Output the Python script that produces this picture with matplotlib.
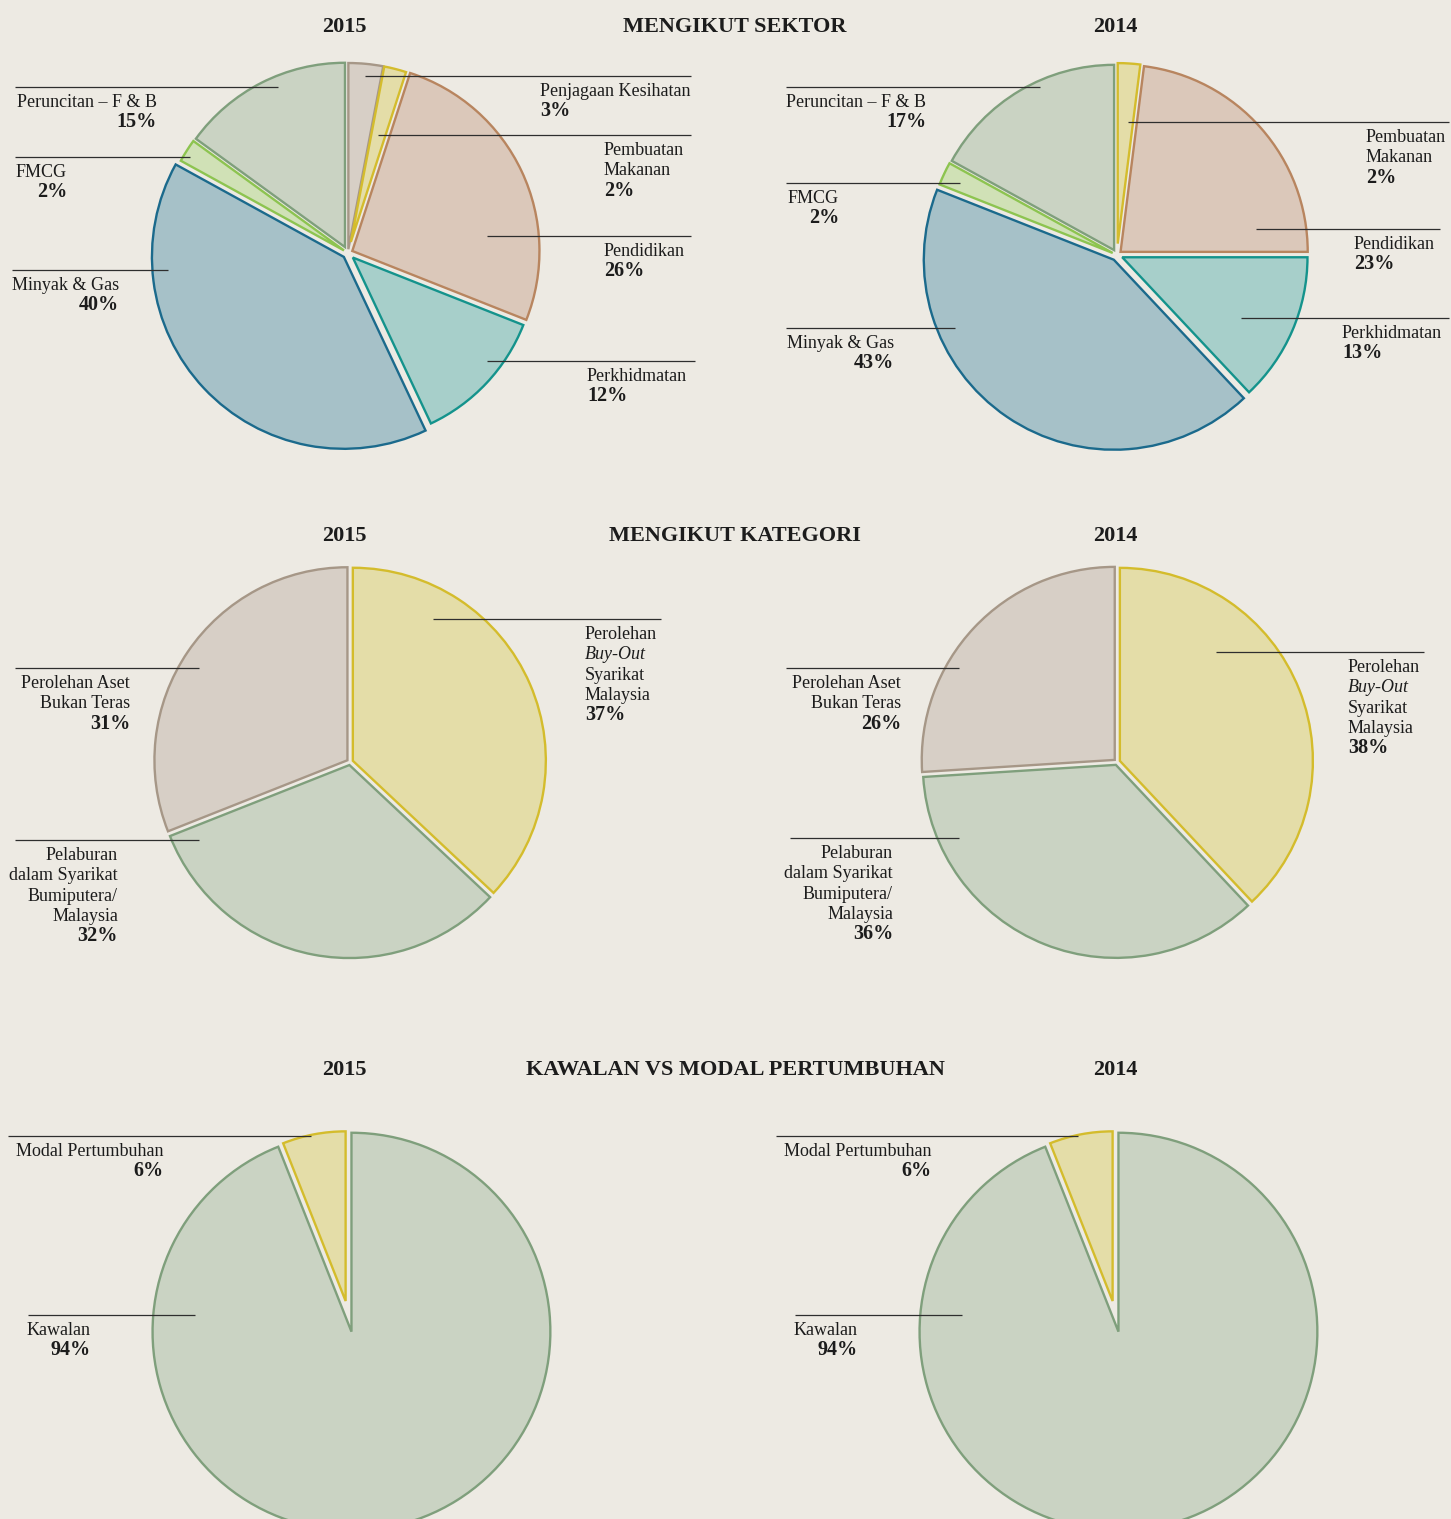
import matplotlib.pyplot as plt

W, H = 1451, 1519
BG = '#EDEAE3'
TXT = '#1c1c1c'
LINE = '#2e2e2e'
FS = 13
FS_PCT = 14.5

plt.rcParams['font.family'] = ['Liberation Serif', 'DejaVu Serif']

# ---- data -------------------------------------------------------------
sektor_labels_2015 = ['Penjagaan Kesihatan', 'Pembuatan\nMakanan', 'Pendidikan',
                      'Perkhidmatan', 'Minyak & Gas', 'FMCG', 'Peruncitan – F & B']
sektor_2015 = [3, 2, 26, 12, 40, 2, 15]

sektor_labels_2014 = ['Pembuatan\nMakanan', 'Pendidikan', 'Perkhidmatan',
                      'Minyak & Gas', 'FMCG', 'Peruncitan – F & B']
sektor_2014 = [2, 23, 13, 43, 2, 17]

kategori_labels = ['Perolehan\nBuy-Out\nSyarikat\nMalaysia',
                   'Pelaburan\ndalam Syarikat\nBumiputera/\nMalaysia',
                   'Perolehan Aset\nBukan Teras']
kategori_2015 = [37, 32, 31]
kategori_2014 = [38, 36, 26]

kawalan_labels = ['Kawalan', 'Modal Pertumbuhan']
kawalan_2015 = [94, 6]
kawalan_2014 = [94, 6]

# ---- colours (fill, edge) ---------------------------------------------
GREY = ('#D7CFC6', '#A69787')
YELLOW = ('#E4DDA8', '#D4BC2C')
BROWN = ('#DBC8BA', '#B8855F')
TEAL = ('#A7CFCA', '#14938C')
BLUE = ('#A6C1C8', '#1B6A8C')
GREEN = ('#D0E1B6', '#8DC450')
SAGE = ('#CAD3C3', '#7F9F7C')

fig = plt.figure(figsize=(W / 100, H / 100), dpi=100, facecolor=BG)
ax = fig.add_axes([0, 0, 1, 1])
ax.set_facecolor(BG)


def Y(y):
    return H - y


def draw_pie(values, center, radius, colors, explode, scale):
    # pie offsets wedges by explode in data units, so scale by the radius
    wedges, _ = ax.pie(values, radius=radius, center=(center[0], Y(center[1])),
                       startangle=90, counterclock=False,
                       explode=[e * radius for e in explode],
                       wedgeprops=dict(linewidth=1.7, joinstyle='miter'))
    for w, (fc, ec), s in zip(wedges, colors, scale):
        w.set_facecolor(fc)
        w.set_edgecolor(ec)
        w.set_radius(radius * s)


def draw_label(layout, name, value):
    x0, x1, ly, tx, ha = layout
    ax.plot([x0, x1], [Y(ly), Y(ly)], color=LINE, lw=0.9,
            solid_capstyle='butt', zorder=3)
    y = ly + 20
    for ln in name.split('\n'):
        style = 'italic' if ln == 'Buy-Out' else 'normal'
        ax.text(tx, Y(y), ln, ha=ha, va='baseline', fontsize=FS,
                style=style, color=TXT)
        y += 20.3
    ax.text(tx, Y(y), f'{value}%', ha=ha, va='baseline', fontsize=FS_PCT,
            weight='bold', color=TXT)


def title(x, y, s):
    ax.text(x, Y(y), s, ha='center', va='baseline', fontsize=16,
            weight='bold', color=TXT)


# ---- MENGIKUT SEKTOR --------------------------------------------------
draw_pie(sektor_2015, (348, 253), 190,
         [GREY, YELLOW, BROWN, TEAL, BLUE, GREEN, SAGE],
         [0.02, 0.06, 0.025, 0.035, 0.03, 0.025, 0.035],
         [0.98, 0.94, 0.985, 0.965, 1.01, 0.98, 0.97])
lay_s15 = [(365, 691, 76, 540, 'left'), (378, 691, 135, 604, 'left'),
           (487, 691, 236, 604, 'left'), (487, 695, 361, 587, 'left'),
           (12, 168, 270, 119, 'right'), (15, 190, 157, 67, 'right'),
           (15, 278, 87, 157, 'right')]
for lay, n, v in zip(lay_s15, sektor_labels_2015, sektor_2015):
    draw_label(lay, n, v)

draw_pie(sektor_2014, (1117, 255), 190,
         [YELLOW, BROWN, TEAL, BLUE, GREEN, SAGE],
         [0.06, 0.025, 0.03, 0.03, 0.025, 0.03],
         [0.95, 0.985, 0.975, 1.0, 0.98, 0.975])
lay_s14 = [(1128, 1449, 122, 1366, 'left'), (1256, 1440, 229, 1354, 'left'),
           (1241, 1449, 318, 1342, 'left'), (786, 955, 328, 894, 'right'),
           (786, 960, 183, 839, 'right'), (786, 1040, 87, 926, 'right')]
for lay, n, v in zip(lay_s14, sektor_labels_2014, sektor_2014):
    draw_label(lay, n, v)

title(344, 32, '2015')
title(735, 32, 'MENGIKUT SEKTOR')
title(1115, 32, '2014')

# ---- MENGIKUT KATEGORI ------------------------------------------------
draw_pie(kategori_2015, (350, 762), 193, [YELLOW, SAGE, GREY],
         [0.016, 0.016, 0.016], [1, 1, 1])
lay_k15 = [(433, 661, 619, 585, 'left'), (15, 199, 840, 118, 'right'),
           (15, 199, 668, 130, 'right')]
for lay, n, v in zip(lay_k15, kategori_labels, kategori_2015):
    draw_label(lay, n, v)

draw_pie(kategori_2014, (1117, 762), 193, [YELLOW, SAGE, GREY],
         [0.016, 0.016, 0.016], [1, 1, 1])
lay_k14 = [(1216, 1424, 652, 1348, 'left'), (790, 959, 838, 893, 'right'),
           (786, 959, 668, 901, 'right')]
for lay, n, v in zip(lay_k14, kategori_labels, kategori_2014):
    draw_label(lay, n, v)

title(344, 541, '2015')
title(735, 541, 'MENGIKUT KATEGORI')
title(1115, 541, '2014')

# ---- KAWALAN VS MODAL PERTUMBUHAN -------------------------------------
draw_pie(kawalan_2015, (350, 1324), 195, [SAGE, YELLOW],
         [0.04, 0.12], [1.02, 0.87])
lay_w15 = [(28, 195, 1315, 91, 'right'), (8, 311, 1136, 164, 'right')]
for lay, n, v in zip(lay_w15, kawalan_labels, kawalan_2015):
    draw_label(lay, n, v)

draw_pie(kawalan_2014, (1117, 1324), 195, [SAGE, YELLOW],
         [0.04, 0.12], [1.02, 0.87])
lay_w14 = [(795, 962, 1315, 858, 'right'), (776, 1078, 1136, 931, 'right')]
for lay, n, v in zip(lay_w14, kawalan_labels, kawalan_2014):
    draw_label(lay, n, v)

title(344, 1075, '2015')
title(735, 1075, 'KAWALAN VS MODAL PERTUMBUHAN')
title(1115, 1075, '2014')

ax.set_xlim(0, W)
ax.set_ylim(0, H)
ax.axis('off')

fig.savefig('out.png', dpi=100, facecolor=BG)
